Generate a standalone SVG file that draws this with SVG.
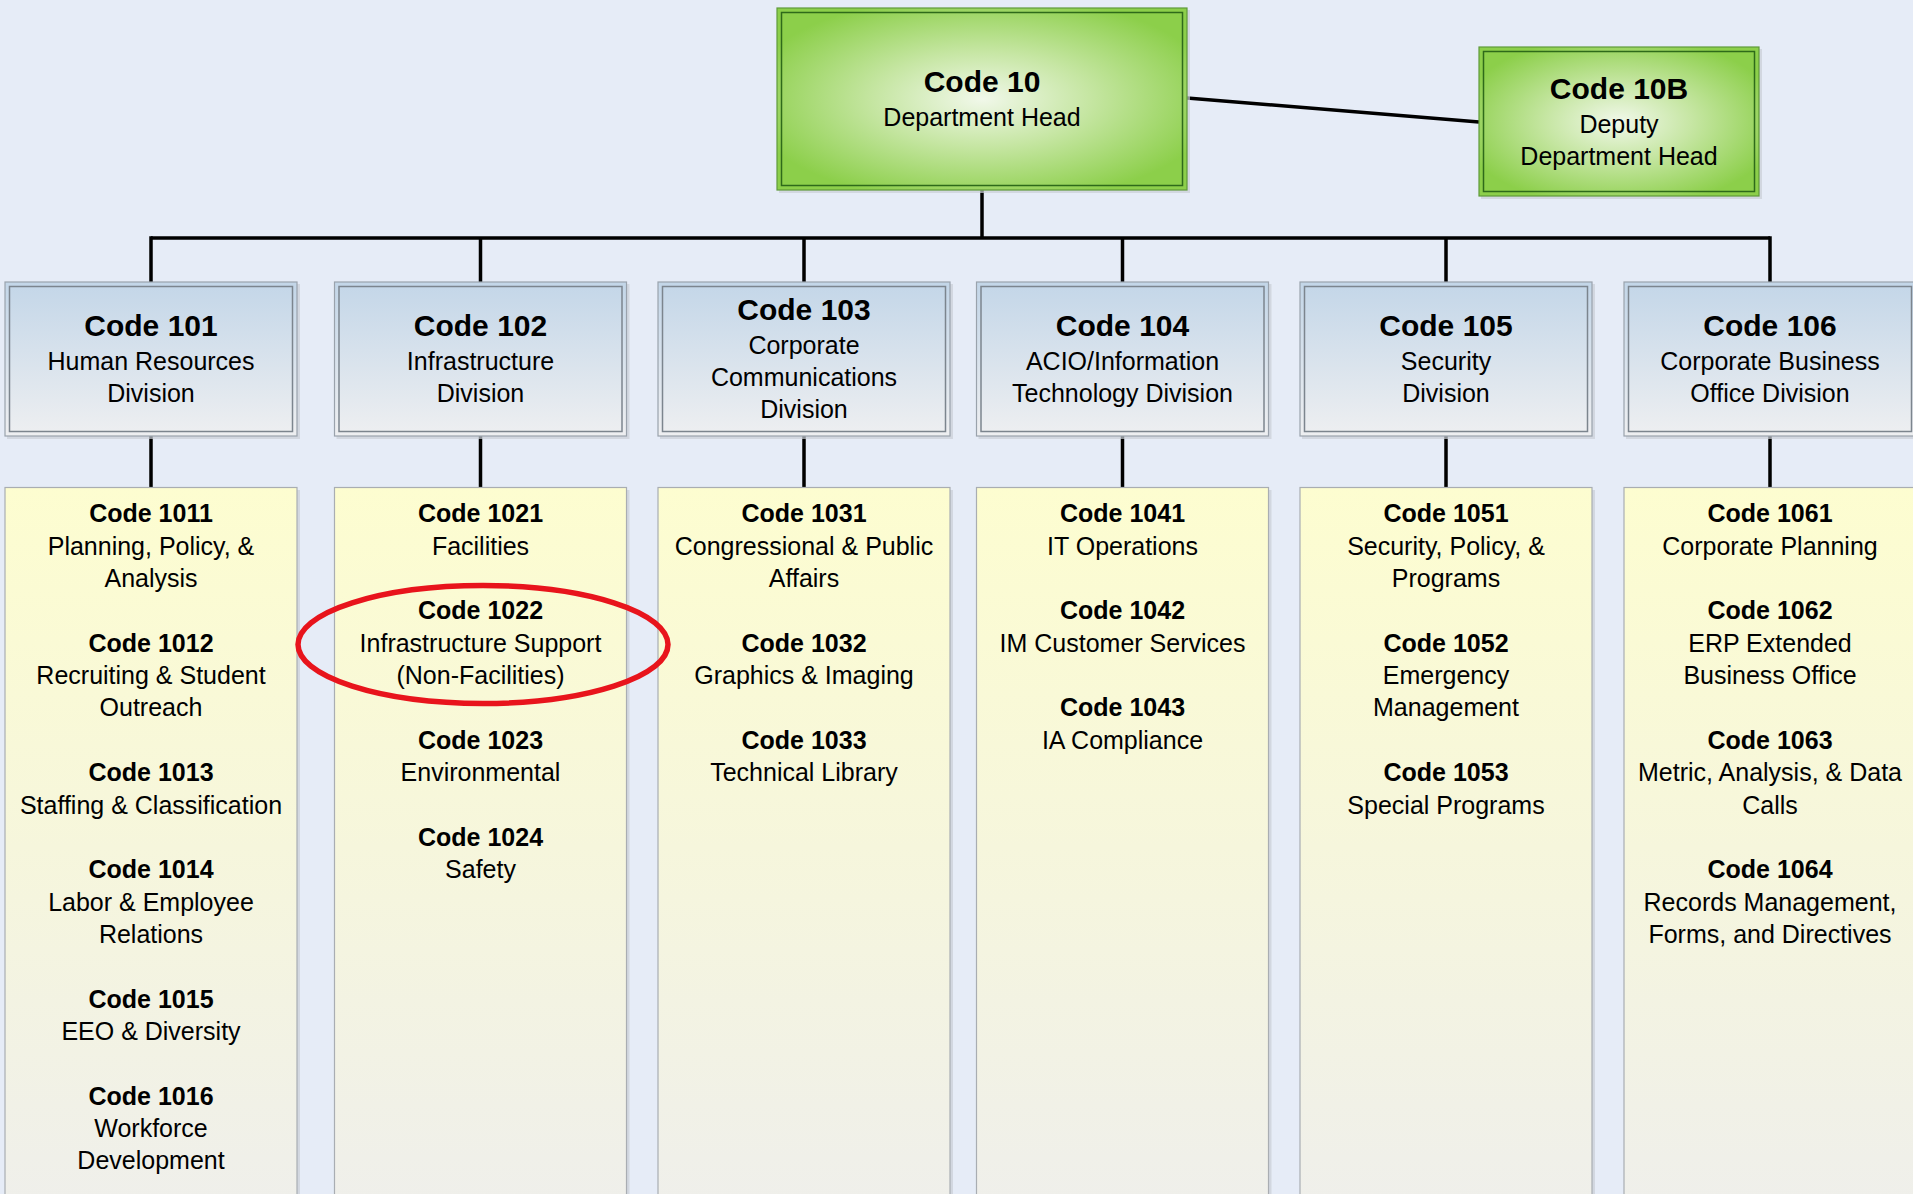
<svg xmlns="http://www.w3.org/2000/svg" width="1913" height="1194" viewBox="0 0 1913 1194">
<defs>
<radialGradient id="gGreen" cx="50%" cy="50%" r="58%">
<stop offset="0" stop-color="#f1f8ea"/>
<stop offset="0.45" stop-color="#c6e6a3"/>
<stop offset="1" stop-color="#8ccf4a"/>
</radialGradient>
<linearGradient id="gDiv" x1="0" y1="0" x2="0" y2="1">
<stop offset="0" stop-color="#c3d6e8"/>
<stop offset="1" stop-color="#eeeff1"/>
</linearGradient>
<linearGradient id="gYel" x1="0" y1="0" x2="0" y2="1">
<stop offset="0" stop-color="#fdfdd0"/>
<stop offset="0.5" stop-color="#f6f6dc"/>
<stop offset="1" stop-color="#efefeb"/>
</linearGradient>
<style>
text{font-family:"Liberation Sans",Arial,Helvetica,sans-serif;fill:#000;text-anchor:middle}
.t30{font-size:30px;font-weight:bold}
.t25b{font-size:25px;font-weight:bold}
.t25{font-size:25px}
.shadow{fill:#c9ced6;opacity:0.7}
.gOut{fill:url(#gGreen);stroke:#5f9a3a;stroke-width:1.2}
.gIn{fill:none;stroke:#2e6a1a;stroke-width:1.5}
.dOut{fill:url(#gDiv);stroke:#9aa2ac;stroke-width:1.2}
.dIn{fill:none;stroke:#7c858e;stroke-width:1.5}
.yel{fill:url(#gYel);stroke:#a9adb2;stroke-width:1.2}
.conn{fill:none;stroke:#000;stroke-width:3.5}
</style>
</defs>
<rect x="0" y="0" width="1913" height="1194" fill="#e6ecf7"/>

<g id="connectors">
<path class="conn" d="M1187 98 L1479 122"/>
<path class="conn" d="M982 190 V238"/>
<path class="conn" d="M151 238 H1770"/>
<path class="conn" d="M151 236.25 V283 M480.5 238 V283 M804 238 V283 M1122.5 238 V283 M1446 238 V283 M1770 236.25 V283"/>
<path class="conn" d="M151 436 V488 M480.5 436 V488 M804 436 V488 M1122.5 436 V488 M1446 436 V488 M1770 436 V488"/>
</g>

<g id="code10">
<rect class="shadow" x="779" y="10" width="411" height="183"/>
<rect class="gOut" x="777" y="8" width="410" height="182"/>
<rect class="gIn" x="781.5" y="12.5" width="401" height="173"/>
<text class="t30" x="982" y="92">Code 10</text>
<text class="t25" x="982" y="126">Department Head</text>
</g>

<g id="code10B">
<rect class="shadow" x="1481" y="49" width="281" height="150"/>
<rect class="gOut" x="1479" y="47" width="280" height="149"/>
<rect class="gIn" x="1483.5" y="51.5" width="271" height="140"/>
<text class="t30" x="1619" y="98.5">Code 10B</text>
<text class="t25" x="1619" y="132.5">Deputy</text>
<text class="t25" x="1619" y="164.5">Department Head</text>
</g>

<g id="code101">
<rect class="shadow" x="7" y="284" width="293" height="155"/>
<rect class="dOut" x="5" y="282" width="292" height="154"/>
<rect class="dIn" x="9.5" y="286.5" width="283" height="145"/>
<text class="t30" x="151" y="336">Code 101</text>
<text class="t25" x="151" y="370">Human Resources</text>
<text class="t25" x="151" y="402">Division</text>
</g>

<g id="code102">
<rect class="shadow" x="336.5" y="284" width="293" height="155"/>
<rect class="dOut" x="334.5" y="282" width="292" height="154"/>
<rect class="dIn" x="339" y="286.5" width="283" height="145"/>
<text class="t30" x="480.5" y="336">Code 102</text>
<text class="t25" x="480.5" y="370">Infrastructure</text>
<text class="t25" x="480.5" y="402">Division</text>
</g>

<g id="code103">
<rect class="shadow" x="660" y="284" width="293" height="155"/>
<rect class="dOut" x="658" y="282" width="292" height="154"/>
<rect class="dIn" x="662.5" y="286.5" width="283" height="145"/>
<text class="t30" x="804" y="320">Code 103</text>
<text class="t25" x="804" y="353.5">Corporate</text>
<text class="t25" x="804" y="385.5">Communications</text>
<text class="t25" x="804" y="418">Division</text>
</g>

<g id="code104">
<rect class="shadow" x="978.5" y="284" width="293" height="155"/>
<rect class="dOut" x="976.5" y="282" width="292" height="154"/>
<rect class="dIn" x="981" y="286.5" width="283" height="145"/>
<text class="t30" x="1122.5" y="336">Code 104</text>
<text class="t25" x="1122.5" y="370">ACIO/Information</text>
<text class="t25" x="1122.5" y="402">Technology Division</text>
</g>

<g id="code105">
<rect class="shadow" x="1302" y="284" width="293" height="155"/>
<rect class="dOut" x="1300" y="282" width="292" height="154"/>
<rect class="dIn" x="1304.5" y="286.5" width="283" height="145"/>
<text class="t30" x="1446" y="336">Code 105</text>
<text class="t25" x="1446" y="370">Security</text>
<text class="t25" x="1446" y="402">Division</text>
</g>

<g id="code106">
<rect class="shadow" x="1626" y="284" width="293" height="155"/>
<rect class="dOut" x="1624" y="282" width="292" height="154"/>
<rect class="dIn" x="1628.5" y="286.5" width="283" height="145"/>
<text class="t30" x="1770" y="336">Code 106</text>
<text class="t25" x="1770" y="370">Corporate Business</text>
<text class="t25" x="1770" y="402">Office Division</text>
</g>

<g id="list101">
<rect class="shadow" x="7" y="490" width="293" height="720"/>
<rect class="yel" x="5" y="487.5" width="292" height="720"/>
<text class="t25b" x="151" y="522.3">Code 1011</text>
<text class="t25" x="151" y="554.7">Planning, Policy, &amp;</text>
<text class="t25" x="151" y="587">Analysis</text>
<text class="t25b" x="151" y="651.7">Code 1012</text>
<text class="t25" x="151" y="684.1">Recruiting &amp; Student</text>
<text class="t25" x="151" y="716.4">Outreach</text>
<text class="t25b" x="151" y="781.1">Code 1013</text>
<text class="t25" x="151" y="813.5">Staffing &amp; Classification</text>
<text class="t25b" x="151" y="878.2">Code 1014</text>
<text class="t25" x="151" y="910.5">Labor &amp; Employee</text>
<text class="t25" x="151" y="942.9">Relations</text>
<text class="t25b" x="151" y="1007.6">Code 1015</text>
<text class="t25" x="151" y="1039.9">EEO &amp; Diversity</text>
<text class="t25b" x="151" y="1104.6">Code 1016</text>
<text class="t25" x="151" y="1137">Workforce</text>
<text class="t25" x="151" y="1169.3">Development</text>
</g>

<g id="list102">
<rect class="shadow" x="336.5" y="490" width="293" height="720"/>
<rect class="yel" x="334.5" y="487.5" width="292" height="720"/>
<text class="t25b" x="480.5" y="522.3">Code 1021</text>
<text class="t25" x="480.5" y="554.7">Facilities</text>
<text class="t25b" x="480.5" y="619.4">Code 1022</text>
<text class="t25" x="480.5" y="651.7">Infrastructure Support</text>
<text class="t25" x="480.5" y="684.1">(Non-Facilities)</text>
<text class="t25b" x="480.5" y="748.8">Code 1023</text>
<text class="t25" x="480.5" y="781.1">Environmental</text>
<text class="t25b" x="480.5" y="845.8">Code 1024</text>
<text class="t25" x="480.5" y="878.2">Safety</text>
</g>

<g id="list103">
<rect class="shadow" x="660" y="490" width="293" height="720"/>
<rect class="yel" x="658" y="487.5" width="292" height="720"/>
<text class="t25b" x="804" y="522.3">Code 1031</text>
<text class="t25" x="804" y="554.7">Congressional &amp; Public</text>
<text class="t25" x="804" y="587">Affairs</text>
<text class="t25b" x="804" y="651.7">Code 1032</text>
<text class="t25" x="804" y="684.1">Graphics &amp; Imaging</text>
<text class="t25b" x="804" y="748.8">Code 1033</text>
<text class="t25" x="804" y="781.1">Technical Library</text>
</g>

<g id="list104">
<rect class="shadow" x="978.5" y="490" width="293" height="720"/>
<rect class="yel" x="976.5" y="487.5" width="292" height="720"/>
<text class="t25b" x="1122.5" y="522.3">Code 1041</text>
<text class="t25" x="1122.5" y="554.7">IT Operations</text>
<text class="t25b" x="1122.5" y="619.4">Code 1042</text>
<text class="t25" x="1122.5" y="651.7">IM Customer Services</text>
<text class="t25b" x="1122.5" y="716.4">Code 1043</text>
<text class="t25" x="1122.5" y="748.8">IA Compliance</text>
</g>

<g id="list105">
<rect class="shadow" x="1302" y="490" width="293" height="720"/>
<rect class="yel" x="1300" y="487.5" width="292" height="720"/>
<text class="t25b" x="1446" y="522.3">Code 1051</text>
<text class="t25" x="1446" y="554.7">Security, Policy, &amp;</text>
<text class="t25" x="1446" y="587">Programs</text>
<text class="t25b" x="1446" y="651.7">Code 1052</text>
<text class="t25" x="1446" y="684.1">Emergency</text>
<text class="t25" x="1446" y="716.4">Management</text>
<text class="t25b" x="1446" y="781.1">Code 1053</text>
<text class="t25" x="1446" y="813.5">Special Programs</text>
</g>

<g id="list106">
<rect class="shadow" x="1626" y="490" width="293" height="720"/>
<rect class="yel" x="1624" y="487.5" width="292" height="720"/>
<text class="t25b" x="1770" y="522.3">Code 1061</text>
<text class="t25" x="1770" y="554.7">Corporate Planning</text>
<text class="t25b" x="1770" y="619.4">Code 1062</text>
<text class="t25" x="1770" y="651.7">ERP Extended</text>
<text class="t25" x="1770" y="684.1">Business Office</text>
<text class="t25b" x="1770" y="748.8">Code 1063</text>
<text class="t25" x="1770" y="781.1">Metric, Analysis, &amp; Data</text>
<text class="t25" x="1770" y="813.5">Calls</text>
<text class="t25b" x="1770" y="878.2">Code 1064</text>
<text class="t25" x="1770" y="910.5">Records Management,</text>
<text class="t25" x="1770" y="942.9">Forms, and Directives</text>
</g>

<g id="highlight">
<ellipse cx="483" cy="644.5" rx="185" ry="59" fill="none" stroke="#e8141c" stroke-width="5.5"/>
</g>
</svg>
